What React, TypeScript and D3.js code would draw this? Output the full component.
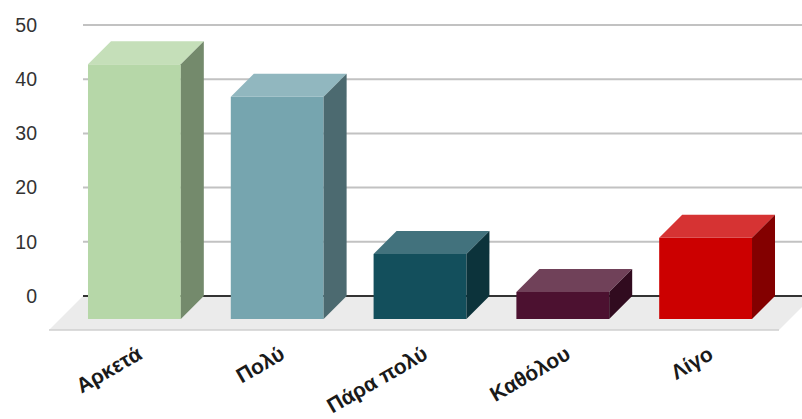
import React from "react";
import * as d3 from "d3";

const categories = ["Αρκετά", "Πολύ", "Πάρα πολύ", "Καθόλου", "Λίγο"];
const values = [47, 41, 12, 5, 15];
const colors = ["#b6d7a8", "#76a5af", "#134f5c", "#4c1130", "#cc0000"];
const yTicks = [0, 10, 20, 30, 40, 50];

const W = 802;
const H = 419;
const DX = 23; // bar depth offset
const DY = 23;

export default function App() {
  const y = d3.scaleLinear().domain([0, 50]).range([296, 25]);
  const x = d3
    .scaleBand<string>()
    .domain(categories)
    .range([63, 777])
    .paddingInner(0.35)
    .paddingOuter(0.175);

  const floorBackY = y(0);
  const floor = [
    [83, floorBackY],
    [813, floorBackY],
    [779, floorBackY + 34],
    [49, floorBackY + 34],
  ];
  const line = d3.line();

  return (
    <svg
      width={W}
      height={H}
      style={{ position: "absolute", left: 0, top: 0, background: "#fff" }}
    >
      <path d={line(floor as [number, number][]) + "Z"} fill="#ebebeb" />
      <line
        x1={49}
        x2={779}
        y1={floorBackY + 34}
        y2={floorBackY + 34}
        stroke="#cfcfcf"
        strokeWidth={1.5}
      />
      {yTicks.map((t) => (
        <g key={t}>
          <line
            x1={83}
            x2={W}
            y1={y(t)}
            y2={y(t)}
            stroke={t === 0 ? "#333" : "#c2c2c2"}
            strokeWidth={2}
          />
          <text
            x={37}
            y={y(t)}
            dy="0.35em"
            textAnchor="end"
            fontFamily="Liberation Sans, Arial, sans-serif"
            fontSize={19.5}
            fill="#333"
          >
            {t}
          </text>
        </g>
      ))}
      {categories.map((c, i) => {
        const x0 = x(c)!;
        const bw = x.bandwidth();
        const base = y(0) + DY;
        const topY = y(values[i]) + DY;
        const col = d3.color(colors[i])!;
        const topCol = d3.interpolateRgb(colors[i], "#ffffff")(0.2);
        const sideCol = d3.interpolateRgb(colors[i], "#000000")(0.36);
        const front: [number, number][] = [
          [x0, topY],
          [x0 + bw, topY],
          [x0 + bw, base],
          [x0, base],
        ];
        const top: [number, number][] = [
          [x0, topY],
          [x0 + DX, topY - DY],
          [x0 + bw + DX, topY - DY],
          [x0 + bw, topY],
        ];
        const side: [number, number][] = [
          [x0 + bw, topY],
          [x0 + bw + DX, topY - DY],
          [x0 + bw + DX, base - DY],
          [x0 + bw, base],
        ];
        return (
          <g key={c}>
            <path d={line(front) + "Z"} fill={col.formatHex()} />
            <path d={line(top) + "Z"} fill={topCol} />
            <path d={line(side) + "Z"} fill={sideCol} />
          </g>
        );
      })}
      {categories.map((c) => {
        const cx = x(c)! + x.bandwidth() / 2 + 9;
        const cy = 358;
        return (
          <text
            key={c}
            x={cx}
            y={cy}
            textAnchor="end"
            transform={`rotate(-30 ${cx} ${cy})`}
            fontFamily="Liberation Sans, Arial, sans-serif"
            fontSize={21}
            fontWeight="bold"
            fill="#1a1a1a"
          >
            {c}
          </text>
        );
      })}
    </svg>
  );
}
